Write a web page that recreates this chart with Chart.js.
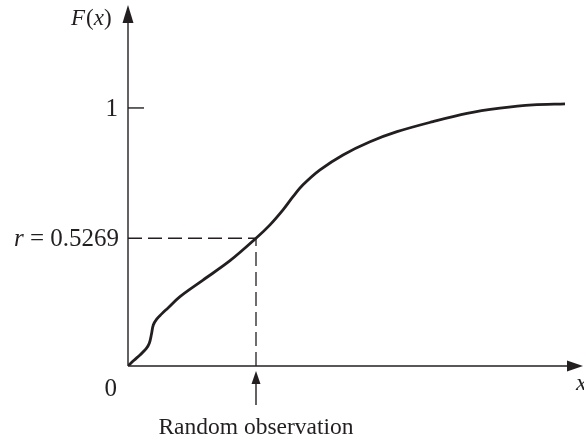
<!DOCTYPE html>
<html>
<head>
<meta charset="utf-8">
<script src="https://cdn.jsdelivr.net/npm/chart.js@4"></script>
<style>
html,body{margin:0;padding:0;background:#fff;}
canvas{display:block;}
</style>
</head>
<body>
<canvas id="c" width="584" height="441"></canvas>
<script>
// ---- data ----
const curveX = [0, 0.06, 0.12, 0.18, 0.213, 0.235, 0.253, 0.287, 0.337, 0.40, 0.52, 0.75, 1.02, 1.28, 1.42, 1.55, 1.65, 1.75, 1.92, 2.15, 2.42, 2.69, 3.05, 3.39, 3.72, 4.05, 4.37];
const curveF = [0, 0.022, 0.043, 0.066, 0.088, 0.124, 0.159, 0.182, 0.202, 0.225, 0.269, 0.333, 0.408, 0.495, 0.547, 0.605, 0.656, 0.702, 0.760, 0.818, 0.869, 0.908, 0.947, 0.979, 0.999, 1.012, 1.016];
const rLevel = [0.495];          // where the dashed r line sits
const rLabels = ['r = 0.5269'];
const obsX = [1.28];             // random observation
const yTickValues = [1];
const yTickLabels = ['1'];
const originLabel = ['0'];
const xMax = 4.55, yMax = 1.399;

const INK = '#231f20';
const SERIF = '"Liberation Serif", "DejaVu Serif", serif';

const curve = curveX.map((x, i) => ({x: x, y: curveF[i]}));
const hLine = [{x: 0, y: rLevel[0]}, {x: obsX[0], y: rLevel[0]}];
const vLine = [{x: obsX[0], y: 0}, {x: obsX[0], y: rLevel[0]}];

function arrowHead(ctx, tx, ty, dir, len, half) {
  ctx.beginPath();
  if (dir === 'up') { ctx.moveTo(tx, ty); ctx.lineTo(tx - half, ty + len); ctx.lineTo(tx + half, ty + len); }
  else { ctx.moveTo(tx, ty); ctx.lineTo(tx - len, ty - half); ctx.lineTo(tx - len, ty + half); }
  ctx.closePath(); ctx.fill();
}

const decor = {
  id: 'decor',
  beforeDatasetsDraw(chart) {
    const ctx = chart.ctx, xs = chart.scales.x, ys = chart.scales.y;
    const x0 = xs.getPixelForValue(0), y0 = ys.getPixelForValue(0);
    const xEnd = xs.getPixelForValue(xMax), yEnd = ys.getPixelForValue(yMax);
    ctx.save();
    ctx.strokeStyle = INK; ctx.fillStyle = INK; ctx.lineWidth = 1.4;
    // axes
    ctx.beginPath(); ctx.moveTo(x0, y0); ctx.lineTo(x0, yEnd + 10); ctx.stroke();
    ctx.beginPath(); ctx.moveTo(x0, y0); ctx.lineTo(xEnd - 10, y0); ctx.stroke();
    arrowHead(ctx, x0, yEnd, 'up', 18, 5.5);
    arrowHead(ctx, xEnd, y0, 'right', 16, 5.5);
    // tick at 1
    yTickValues.forEach(v => {
      const py = ys.getPixelForValue(v);
      ctx.beginPath(); ctx.moveTo(x0, py); ctx.lineTo(x0 + 16, py); ctx.stroke();
    });
    // arrow under observation
    const ox = xs.getPixelForValue(obsX[0]);
    ctx.beginPath(); ctx.moveTo(ox, y0 + 16); ctx.lineTo(ox, y0 + 39); ctx.stroke();
    arrowHead(ctx, ox, y0 + 5, 'up', 13, 4.5);
    // texts
    ctx.textBaseline = 'middle';
    ctx.textAlign = 'right';
    ctx.font = '25px ' + SERIF;
    yTickValues.forEach((v, i) => ctx.fillText(yTickLabels[i], x0 - 10, ys.getPixelForValue(v) + 1));
    // r label: italic r + upright rest
    const ry = ys.getPixelForValue(rLevel[0]) + 1;
    const rest = rLabels[0].slice(1);
    ctx.font = '25px ' + SERIF;
    const wRest = ctx.measureText(rest).width;
    ctx.fillText(rest, x0 - 9, ry);
    ctx.font = 'italic 25px ' + SERIF;
    ctx.fillText(rLabels[0][0], x0 - 9 - wRest, ry);
    // origin
    ctx.font = '25px ' + SERIF;
    ctx.fillText(originLabel[0], x0 - 11, y0 + 23);
    // F(x)
    ctx.textAlign = 'left';
    let tx = 71; const ty = 19;
    const parts = [['F', true], ['(', false], ['x', true], [')', false]];
    parts.forEach(p => {
      ctx.font = (p[1] ? 'italic ' : '') + '23px ' + SERIF;
      ctx.fillText(p[0], tx, ty); tx += ctx.measureText(p[0]).width + (p[0] === 'F' ? 1 : 0);
    });
    // x label
    ctx.font = 'italic 24px ' + SERIF;
    ctx.fillText('x', xEnd - 7, y0 + 18);
    // Random observation
    ctx.textAlign = 'center';
    ctx.font = '23.5px ' + SERIF;
    ctx.fillText('Random observation', ox, y0 + 62);
    ctx.restore();
  }
};

new Chart(document.getElementById('c'), {
  type: 'scatter',
  data: {
    datasets: [
      {data: curve, showLine: true, borderColor: INK, borderWidth: 2.8, pointRadius: 0, tension: 0.35, fill: false},
      {data: hLine, showLine: true, borderColor: INK, borderWidth: 1.3, borderDash: [14, 6], pointRadius: 0},
      {data: vLine, showLine: true, borderColor: INK, borderWidth: 1.3, borderDash: [14, 6], pointRadius: 0}
    ]
  },
  options: {
    responsive: false,
    devicePixelRatio: 1,
    animation: false,
    layout: {padding: {left: 128, right: 1, top: 5, bottom: 75}},
    plugins: {legend: {display: false}, tooltip: {enabled: false}},
    scales: {
      x: {type: 'linear', min: 0, max: xMax, display: false},
      y: {type: 'linear', min: 0, max: yMax, display: false}
    }
  },
  plugins: [decor]
});
</script>
</body>
</html>
